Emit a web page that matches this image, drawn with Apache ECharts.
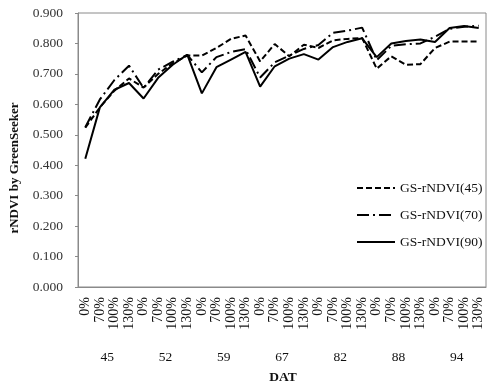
<!DOCTYPE html>
<html>
<head>
<meta charset="utf-8">
<script src="https://cdn.jsdelivr.net/npm/echarts@6/dist/echarts.min.js"></script>
<style>
html,body{margin:0;padding:0;background:#fff;}
#chart{width:489px;height:388px;}
</style>
</head>
<body>
<div id="chart"></div>
<script>
var groups = ['45', '52', '59', '67', '82', '88', '94'];
var levels = ['0%', '70%', '100%', '130%'];
var yTicks = [0, 0.1, 0.2, 0.3, 0.4, 0.5, 0.6, 0.7, 0.8, 0.9];

var gs45 = [0.523, 0.590, 0.645, 0.685, 0.655, 0.700, 0.735, 0.760,
            0.760, 0.785, 0.815, 0.826, 0.741, 0.798, 0.758, 0.796,
            0.785, 0.810, 0.815, 0.818, 0.717, 0.758, 0.730, 0.732,
            0.785, 0.806, 0.806, 0.806];
var gs70 = [0.525, 0.616, 0.680, 0.727, 0.654, 0.714, 0.740, 0.762,
            0.705, 0.755, 0.772, 0.781, 0.688, 0.738, 0.760, 0.782,
            0.795, 0.835, 0.842, 0.852, 0.745, 0.792, 0.797, 0.800,
            0.822, 0.848, 0.855, 0.858];
var gs90 = [0.421, 0.590, 0.648, 0.670, 0.619, 0.687, 0.730, 0.763,
            0.636, 0.722, 0.747, 0.772, 0.658, 0.725, 0.750, 0.765,
            0.747, 0.788, 0.805, 0.817, 0.755, 0.800, 0.808, 0.813,
            0.805, 0.851, 0.857, 0.851];

var cats = [];
groups.forEach(function (g) { levels.forEach(function (l) { cats.push(l); }); });

var FONT = '"Liberation Serif", "Times New Roman", serif';
var chart = echarts.init(document.getElementById('chart'));
chart.setOption({
  backgroundColor: '#fff',
  animation: false,
  textStyle: { fontFamily: FONT },
  grid: { left: 78, right: 3, top: 13, bottom: 101, show: true, borderColor: '#8a8a8a', borderWidth: 1, containLabel: false },
  legend: {
    orient: 'vertical', left: 351, top: 176,
    itemWidth: 38, itemHeight: 14, itemGap: 13,
    itemStyle: { opacity: 0 },
    textStyle: { fontFamily: FONT, fontSize: 13.5, color: '#111' },
    data: ['GS-rNDVI(45)', 'GS-rNDVI(70)', 'GS-rNDVI(90)']
  },
  xAxis: [{
    type: 'category', data: cats, position: 'bottom', boundaryGap: true,
    axisLine: { lineStyle: { color: '#8a8a8a' } },
    axisTick: { interval: 0, length: 43, lineStyle: { color: '#9a9a9a' } },
    axisLabel: { interval: 0, rotate: 90, margin: 10, fontFamily: FONT, fontSize: 14, color: '#111' }
  }, {
    type: 'category', data: groups, position: 'bottom', boundaryGap: true,
    axisLine: { show: false },
    axisTick: { interval: 0, length: 80, lineStyle: { color: '#9a9a9a' } },
    axisLabel: { interval: 0, margin: 63, fontFamily: FONT, fontSize: 13.5, color: '#111' }
  }],
  yAxis: {
    type: 'value', min: 0, max: 0.9, interval: 0.1,
    axisLine: { show: true, lineStyle: { color: '#8a8a8a' } },
    axisTick: { show: true, length: 3, lineStyle: { color: '#8a8a8a' } },
    splitLine: { show: false },
    axisLabel: { margin: 15, fontFamily: FONT, fontSize: 13.5, color: '#333',
      formatter: function (v) { return v.toFixed(3); } }
  },
  graphic: [{
    type: 'text', x: 15, y: 168, rotation: Math.PI / 2,
    style: { text: 'rNDVI by GreenSeeker', font: 'bold 13px "Liberation Serif", serif', fill: '#111', align: 'center', verticalAlign: 'middle' }
  }, {
    type: 'text', x: 283, y: 378,
    style: { text: 'DAT', font: 'bold 13.5px "Liberation Serif", serif', fill: '#111', align: 'center', verticalAlign: 'middle' }
  }],
  series: [{
    name: 'GS-rNDVI(45)', type: 'line', data: gs45, symbol: 'none', showSymbol: false,
    lineStyle: { color: '#000', width: 2, type: [6, 3] }, itemStyle: { color: '#000' }
  }, {
    name: 'GS-rNDVI(70)', type: 'line', data: gs70, symbol: 'none', showSymbol: false,
    lineStyle: { color: '#000', width: 2, type: [12, 4, 2, 4] }, itemStyle: { color: '#000' }
  }, {
    name: 'GS-rNDVI(90)', type: 'line', data: gs90, symbol: 'none', showSymbol: false,
    lineStyle: { color: '#000', width: 2 }, itemStyle: { color: '#000' }
  }]
});
</script>
</body>
</html>
